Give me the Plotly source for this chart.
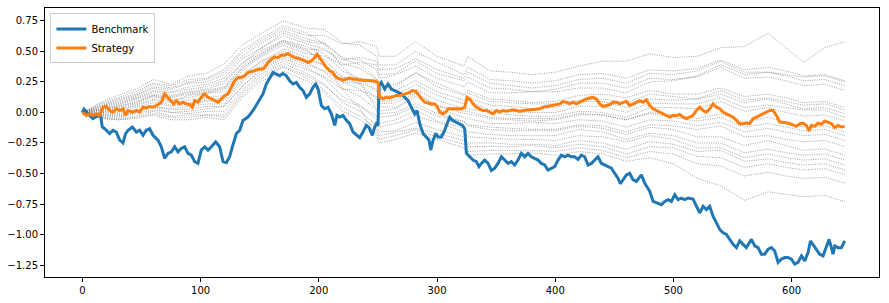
import plotly.graph_objects as go

# ---------------- data ----------------
bench_x = [0, 1.4, 6.2, 9, 13.2, 15.5, 16.9, 18.9, 23.1, 25.9, 28.7, 31.6, 34.4, 36.6, 38.6, 42.3, 45.7, 48.5,
           51.3, 54.1, 56.9, 59.8, 64, 66.8, 69.6, 72.4, 75.3, 78.1, 80.9, 83.7, 86.5, 89.4, 92.2, 95, 97.8,
           100.6, 103.5, 106.3, 109.1, 112.8, 116.1, 119, 121.8, 124.6, 126.9, 130.3, 133.1, 135.9, 140.1,
           144.4, 148.6, 152.8, 155.6, 158.5, 161.3, 164.1, 166.9, 169.7, 172.6, 175.4, 178.2, 181, 183.8,
           186.7, 189.5, 192.3, 195.1, 197.4, 199.4, 202.2, 205, 207.8, 210.6,
           213.5, 215.4, 217.7, 220.5, 223.3, 226.1, 229, 231.8, 234.6, 237.4, 240.2, 242.5, 245.3, 247.3,
           248.7, 250.1, 251, 252.9, 255.8, 258.6, 261.4, 264.2, 267, 269.9, 272.7, 275.5, 278.3, 281.1,
           283.1, 285.4, 288.2, 291, 293.3, 294.7, 296.7, 298.9, 300.9, 303.7, 306.5, 308.5, 310.8, 313,
           315.8, 318.6, 321.5, 323.4, 324.9, 327.7, 330.5, 333.3, 335.5, 337.5, 340.3, 343.2, 346, 348.8,
           351.6, 354.5, 357.3, 360.1, 362.9, 365.7, 368.5, 371.4, 374.2, 377, 379.8, 382.6, 385.5, 388.3,
           391.1, 393.9, 396.7, 399.6, 402.4, 405.2, 408, 410.8, 413.6, 416.5, 419.3, 422.1, 424.9, 427.8,
           430.6, 433.4, 436.2, 439, 441.8, 444.7, 447.5, 450.3, 453.1, 455.1, 457.4,
           460.2, 463, 465.9, 468.7, 472.9, 475.7, 480, 482.8, 485.6, 489.8, 492.6, 495.5, 498.3, 501.1,
           503.9, 506.7, 509.6, 512.4, 516.6, 519.4, 522.2, 525.1, 527.9, 530.7, 533.5, 536.4, 539.2, 542,
           544.8, 547.6, 550.5, 553.3, 556.1, 558.9, 561.7, 566, 568.8, 571.6, 574.4, 577.2, 580.1, 582.9,
           585.7, 588.5, 591.3, 594.2, 597, 599.8, 602.6, 605.4, 608.3, 611.1, 613.9, 615.9, 618.1, 621,
           623.8, 626.6, 629.4, 631.7, 633.6, 635, 636.5, 639.3, 642.1, 644.9]
bench_y = [0, 0.027, -0.024, -0.051, -0.024, -0.032, -0.119, -0.133, -0.173, -0.146, -0.160, -0.227, -0.249,
           -0.173, -0.146, -0.119, -0.160, -0.146, -0.187, -0.146, -0.133, -0.187, -0.227, -0.281, -0.376,
           -0.335, -0.322, -0.281, -0.322, -0.295, -0.281, -0.335, -0.349, -0.403, -0.417, -0.308, -0.281,
           -0.308, -0.281, -0.241, -0.281, -0.403, -0.411, -0.363, -0.281, -0.173, -0.146, -0.065, -0.038,
           0.016, 0.084, 0.152, 0.233, 0.287, 0.327, 0.314, 0.300, 0.319, 0.300, 0.260, 0.233, 0.246, 0.206,
           0.179, 0.124, 0.152, 0.206, 0.233, 0.192, 0.057, 0.030, 0.043, -0.011,
           -0.106, -0.024, -0.038, -0.024, -0.065, -0.092, -0.160, -0.187, -0.206, -0.160, -0.106, -0.124,
           -0.187, -0.119, -0.092, -0.106, 0.219, 0.246, 0.192, 0.233, 0.192, 0.179, 0.165, 0.152, 0.124,
           0.097, 0.043, -0.011, 0.016, -0.092, -0.173, -0.200, -0.227, -0.308, -0.227, -0.173, -0.200,
           -0.200, -0.146, -0.092, -0.038, -0.065, -0.078, -0.092, -0.106, -0.133, -0.335, -0.363, -0.390,
           -0.403, -0.444, -0.417, -0.390, -0.417, -0.476, -0.457, -0.417, -0.363, -0.390, -0.417, -0.403,
           -0.430, -0.390, -0.335, -0.363, -0.335, -0.363, -0.376, -0.390, -0.417, -0.430, -0.471, -0.457,
           -0.444, -0.390, -0.349, -0.363, -0.349, -0.363, -0.363, -0.384, -0.349, -0.363, -0.430, -0.417,
           -0.390, -0.363, -0.417, -0.430, -0.444, -0.457, -0.498, -0.538, -0.584, -0.552,
           -0.511, -0.498, -0.552, -0.565, -0.511, -0.579, -0.647, -0.728, -0.741, -0.755, -0.728, -0.714,
           -0.728, -0.674, -0.714, -0.701, -0.714, -0.701, -0.709, -0.768, -0.823, -0.768, -0.795, -0.768,
           -0.850, -0.904, -0.958, -0.985, -0.998, -1.039, -1.080, -1.107, -1.052, -1.080, -1.107, -1.039,
           -1.093, -1.107, -1.161, -1.161, -1.120, -1.107, -1.134, -1.228, -1.201, -1.188, -1.188, -1.201,
           -1.242, -1.228, -1.174, -1.215, -1.147, -1.052, -1.080, -1.120, -1.161, -1.174, -1.093, -1.039,
           -1.107, -1.161, -1.093, -1.107, -1.107, -1.052]

strat_x = [0, 3.4, 6.2, 9, 11.8, 14.6, 17.5, 20.3, 23.1, 25.9, 28.7, 31.6, 34.4, 36.6, 38.6, 42.8, 45.7, 48.5,
           51.3, 54.1, 56.9, 59.8, 64, 66.8, 69.6, 72.4, 75.3, 77.2, 79.5, 82.3, 85.1, 87.9, 90.8, 93, 95,
           97.8, 100.6, 103.5, 106.3, 109.1, 111.9, 114.7, 117.6, 120.4, 123.2, 126, 128.8, 131.7, 134.5,
           137.3, 140.1, 142.9, 145.8, 148.6, 151.4, 154.2, 157, 159.9, 162.7, 165.5, 168.3, 171.1, 174,
           176.8, 179.6, 182.4, 185.2, 188.1, 190.9, 193.7, 196.5, 198.5, 200.7, 203.6, 206.4, 209.2, 212,
           214.9, 217.7, 220.5, 223.4, 226.2, 229, 231.8, 234.6, 237.4, 240.2, 243.1, 245.9, 248.7, 250.1,
           251.5, 254.3, 257.2, 260, 262.8, 265.6, 268.5, 271.3, 274.1, 276.9, 279.1, 282, 284, 286.8,
           289.6, 292.4, 295.3, 298.1, 300.1, 302.3, 305.1, 307.4, 309.4, 312.2, 315, 317.8, 320.6, 323.5,
           325.4, 327.7, 330.5, 333.3, 336.1, 339, 341.8, 344.6, 347.4, 350.2, 353.1, 355.9, 358.7, 361.5,
           364.3, 367.2, 370, 372.8, 375.6, 378.4, 381.3, 384.1, 386.9, 389.7, 392.5, 395.4, 398.2, 401,
           403.8, 406.6, 409.5, 412.3, 415.1, 417.9, 420.7, 423.6, 426.4, 429.2, 432, 434.8, 437.7, 440.5,
           443.3, 446.1, 448.9, 451.8, 454.6, 457.4,
           460.2, 463, 465.9, 468.7, 471.5, 474.3, 477.1, 480, 482.8, 485.6, 488.4, 491.2, 494.1, 496.9,
           499.7, 502.5, 505.3, 508.2, 511, 513.8, 516.6, 519.4, 522.3, 525.1, 527.9, 530.7, 533.5, 536.4,
           539.2, 542, 544.8, 547.6, 550.5, 553.3, 556.1, 558.9, 561.7, 564.6, 567.4, 570.2, 573, 575.8,
           578.7, 581.5, 584.3, 587.1, 589.9, 592.8, 595.6, 598.4, 601.2, 604, 606.9, 609.7, 612.5, 614.8,
           616.7, 619.6, 622.4, 625.2, 628, 630.8, 633.7, 636.5, 639.3, 642.1, 644.9]
strat_y = [0, -0.024, -0.011, -0.024, -0.011, -0.024, 0.043, 0.049, 0.016, 0.003, 0.030, 0.016, 0.030,
           -0.024, 0.016, 0.003, 0.016, 0.003, 0.043, 0.038, 0.049, 0.043, 0.065, 0.084, 0.152, 0.124, 0.097,
           0.070, 0.097, 0.070, 0.084, 0.070, 0.065, 0.043, 0.097, 0.084, 0.124, 0.152, 0.124, 0.111, 0.097,
           0.084, 0.111, 0.138, 0.152, 0.206, 0.260, 0.287, 0.287, 0.300, 0.327, 0.336, 0.341, 0.354, 0.354,
           0.368, 0.409, 0.436, 0.455, 0.449, 0.471, 0.468, 0.482, 0.463, 0.449, 0.444, 0.436, 0.422, 0.409,
           0.422, 0.449, 0.476, 0.449, 0.409, 0.368, 0.341, 0.327, 0.287,
           0.273, 0.265, 0.273, 0.281, 0.273, 0.273, 0.265, 0.265, 0.260, 0.260, 0.260, 0.252, 0.246,
           0.124, 0.111, 0.124, 0.119, 0.130, 0.138, 0.138, 0.146, 0.157, 0.165, 0.179, 0.173, 0.152, 0.111,
           0.084, 0.076, 0.070, 0.070, 0.049, 0.003, -0.011, 0.003, 0.030, 0.030, 0.030, 0.030, 0.030, 0.043,
           0.124, 0.111, 0.070, 0.043, 0.030, 0.016, 0.016, 0.003, -0.011, 0.016, 0.003, 0.016, 0.011, 0.016,
           0.022, 0.016, 0.008, 0.016, 0.016, 0.022, 0.024, 0.030, 0.030, 0.043, 0.049, 0.049, 0.057, 0.065,
           0.070, 0.089, 0.084, 0.070, 0.084, 0.070, 0.084, 0.097, 0.111, 0.119, 0.124, 0.111, 0.070, 0.049,
           0.057, 0.065, 0.084, 0.084, 0.070, 0.084,
           0.092, 0.057, 0.070, 0.084, 0.097, 0.084, 0.103, 0.057, 0.030, 0.016, 0.003, -0.011, -0.024,
           -0.038, -0.024, -0.024, -0.016, -0.038, -0.051, -0.038, -0.024, 0.016, 0.043, 0.016, 0.003, 0.030,
           0.070, 0.043, 0.030, 0.003, -0.011, -0.024, -0.038, -0.065, -0.092, -0.092, -0.087, -0.092,
           -0.051, -0.038, -0.024, -0.011, 0.003, 0.016, 0.016, -0.024, -0.078, -0.078, -0.084, -0.092,
           -0.106, -0.114, -0.092, -0.087, -0.106, -0.152, -0.106, -0.114, -0.087, -0.097, -0.070, -0.078,
           -0.092, -0.124, -0.106, -0.119, -0.114]

# gray variant curves, sampled at these x positions
variant_x = [0, 15, 30, 45, 60, 75, 90, 105, 120, 135, 150, 170, 190, 205, 220, 235, 249, 251, 265, 282,
             300, 323, 326, 345, 362, 380, 400, 420, 440, 460, 480, 500, 520, 540, 560, 580, 595, 610, 628, 645]
variant_1 = [0, 0.06, 0.11, 0.15, 0.23, 0.20, 0.25, 0.27, 0.33, 0.49, 0.58, 0.69, 0.63, 0.63, 0.56, 0.58, 0.54, 0.46, 0.46, 0.58, 0.46, 0.38, 0.46,
             0.34, 0.33, 0.31, 0.33, 0.38, 0.42, 0.42, 0.48, 0.45, 0.46, 0.53, 0.54, 0.65, 0.53, 0.41, 0.53, 0.58]
variant_2 = [0, 0.08, 0.14, 0.19, 0.27, 0.23, 0.30, 0.32, 0.40, 0.55, 0.64, 0.75, 0.69, 0.68, 0.57, 0.55, 0.46, 0.39, 0.39, 0.50, 0.41, 0.31, 0.37,
             0.27, 0.26, 0.24, 0.26, 0.31, 0.32, 0.28, 0.35, 0.34, 0.36, 0.43, 0.35, 0.37, 0.34, 0.30, 0.31, 0.26]
variant_3 = [0, 0.03, 0.06, 0.11, 0.15, 0.13, 0.16, 0.18, 0.21, 0.38, 0.48, 0.59, 0.52, 0.51, 0.43, 0.45, 0.42, 0.35, 0.36, 0.44, 0.35, 0.28, 0.33,
             0.24, 0.22, 0.20, 0.22, 0.27, 0.28, 0.24, 0.32, 0.31, 0.34, 0.42, 0.33, 0.33, 0.31, 0.29, 0.30, 0.25]
variant_4 = [0, 0.05, 0.09, 0.13, 0.20, 0.17, 0.21, 0.23, 0.28, 0.44, 0.52, 0.65, 0.58, 0.56, 0.45, 0.43, 0.35, 0.28, 0.31, 0.38, 0.28, 0.21, 0.25,
             0.16, 0.16, 0.17, 0.17, 0.20, 0.20, 0.16, 0.25, 0.26, 0.30, 0.39, 0.31, 0.33, 0.30, 0.26, 0.27, 0.22]
variant_5 = [0, 0.02, 0.04, 0.07, 0.13, 0.10, 0.12, 0.16, 0.17, 0.34, 0.45, 0.55, 0.48, 0.46, 0.39, 0.41, 0.39, 0.31, 0.32, 0.42, 0.32, 0.26, 0.29,
             0.20, 0.19, 0.17, 0.19, 0.24, 0.24, 0.20, 0.28, 0.27, 0.29, 0.37, 0.28, 0.29, 0.26, 0.22, 0.23, 0.18]
variant_6 = [0, 0.05, 0.10, 0.14, 0.21, 0.19, 0.24, 0.25, 0.31, 0.46, 0.56, 0.67, 0.60, 0.57, 0.44, 0.39, 0.28, 0.22, 0.23, 0.32, 0.24, 0.15, 0.18,
             0.11, 0.10, 0.08, 0.09, 0.14, 0.15, 0.12, 0.18, 0.15, 0.15, 0.20, 0.13, 0.15, 0.12, 0.08, 0.09, 0.04]
variant_7 = [0, 0.00, 0.03, 0.05, 0.10, 0.06, 0.08, 0.10, 0.12, 0.29, 0.41, 0.50, 0.43, 0.39, 0.29, 0.28, 0.23, 0.19, 0.18, 0.26, 0.17, 0.10, 0.12,
             0.06, 0.05, 0.03, 0.04, 0.09, 0.09, 0.04, 0.11, 0.10, 0.11, 0.18, 0.10, 0.12, 0.09, 0.06, 0.07, 0.02]
variant_8 = [0, 0.04, 0.08, 0.12, 0.18, 0.16, 0.19, 0.21, 0.26, 0.40, 0.52, 0.63, 0.56, 0.52, 0.40, 0.36, 0.27, 0.20, 0.21, 0.33, 0.21, 0.14, 0.16,
             0.09, 0.08, 0.07, 0.07, 0.10, 0.11, 0.08, 0.15, 0.13, 0.11, 0.15, 0.08, 0.11, 0.07, 0.03, 0.04, -0.01]
variant_9 = [0, -0.01, -0.01, 0.02, 0.05, 0.03, 0.05, 0.07, 0.07, 0.25, 0.37, 0.46, 0.39, 0.34, 0.25, 0.24, 0.19, 0.13, 0.14, 0.23, 0.14, 0.07, 0.10,
             0.02, 0.01, 0.00, 0.00, 0.05, 0.05, 0.00, 0.08, 0.07, 0.07, 0.12, 0.04, 0.06, 0.04, 0.02, 0.02, -0.04]
variant_10 = [0, 0.03, 0.07, 0.11, 0.17, 0.14, 0.17, 0.19, 0.24, 0.40, 0.50, 0.59, 0.54, 0.48, 0.34, 0.28, 0.17, 0.09, 0.10, 0.19, 0.10, 0.03, 0.03,
              0.00, -0.02, -0.03, -0.03, 0.01, 0.00, -0.04, 0.04, 0.04, 0.03, 0.09, 0.01, 0.04, 0.00, -0.03, -0.02, -0.07]
variant_11 = [0, 0.02, 0.05, 0.08, 0.14, 0.09, 0.14, 0.16, 0.19, 0.36, 0.46, 0.57, 0.50, 0.43, 0.29, 0.23, 0.11, 0.05, 0.04, 0.15, 0.06, -0.01, -0.01,
              -0.05, -0.06, -0.07, -0.06, -0.02, -0.02, -0.06, 0.00, -0.02, -0.05, -0.01, -0.08, -0.04, -0.08, -0.12, -0.11, -0.16]
variant_12 = [0, -0.02, -0.03, 0.00, 0.04, 0.00, 0.01, 0.03, 0.05, 0.21, 0.33, 0.42, 0.35, 0.29, 0.19, 0.18, 0.13, 0.07, 0.08, 0.16, 0.05, 0.01, 0.01,
              -0.04, -0.05, -0.05, -0.05, -0.01, -0.02, -0.06, -0.01, -0.04, -0.07, -0.04, -0.12, -0.09, -0.12, -0.15, -0.14, -0.19]
variant_13 = [0, 0.01, 0.02, 0.06, 0.11, 0.08, 0.10, 0.12, 0.14, 0.31, 0.41, 0.52, 0.45, 0.38, 0.25, 0.19, 0.07, 0.01, 0.03, 0.13, 0.03, -0.04, -0.05,
              -0.09, -0.09, -0.08, -0.09, -0.06, -0.07, -0.12, -0.06, -0.07, -0.11, -0.08, -0.16, -0.13, -0.16, -0.19, -0.18, -0.23]
variant_14 = [0, 0.07, 0.12, 0.17, 0.24, 0.22, 0.27, 0.28, 0.35, 0.51, 0.60, 0.71, 0.65, 0.56, 0.37, 0.24, 0.03, -0.01, 0.00, 0.07, -0.01, -0.08, -0.10,
              -0.12, -0.13, -0.14, -0.14, -0.10, -0.11, -0.16, -0.10, -0.11, -0.14, -0.11, -0.20, -0.19, -0.22, -0.24, -0.23, -0.28]
variant_15 = [0, 0.00, 0.00, 0.04, 0.08, 0.05, 0.07, 0.09, 0.10, 0.27, 0.39, 0.48, 0.41, 0.33, 0.20, 0.13, 0.02, -0.04, -0.02, 0.05, -0.03, -0.07, -0.11,
              -0.14, -0.15, -0.15, -0.15, -0.11, -0.13, -0.18, -0.12, -0.14, -0.20, -0.20, -0.27, -0.23, -0.27, -0.31, -0.30, -0.35]
variant_16 = [0, -0.04, -0.05, -0.03, 0.01, -0.03, -0.02, -0.02, -0.02, 0.16, 0.29, 0.38, 0.30, 0.22, 0.10, 0.05, -0.03, -0.09, -0.06, 0.02, -0.07, -0.13, -0.16,
              -0.18, -0.19, -0.19, -0.19, -0.14, -0.16, -0.22, -0.17, -0.19, -0.25, -0.25, -0.33, -0.30, -0.33, -0.35, -0.34, -0.39]
variant_17 = [0, -0.02, -0.02, 0.01, 0.05, 0.02, 0.03, 0.05, 0.05, 0.21, 0.35, 0.44, 0.37, 0.28, 0.13, 0.06, -0.06, -0.12, -0.09, -0.03, -0.08, -0.16, -0.20,
              -0.21, -0.22, -0.22, -0.23, -0.19, -0.20, -0.24, -0.19, -0.22, -0.29, -0.29, -0.37, -0.34, -0.37, -0.39, -0.38, -0.43]
variant_18 = [0, -0.03, -0.04, -0.01, 0.02, 0.00, -0.01, 0.01, 0.01, 0.18, 0.31, 0.40, 0.32, 0.23, 0.08, 0.01, -0.11, -0.16, -0.15, -0.08, -0.14, -0.20, -0.25,
              -0.25, -0.26, -0.26, -0.27, -0.23, -0.25, -0.30, -0.24, -0.26, -0.32, -0.31, -0.40, -0.38, -0.41, -0.43, -0.42, -0.47]
variant_19 = [0, -0.04, -0.06, -0.04, -0.01, -0.04, -0.04, -0.02, -0.04, 0.14, 0.27, 0.37, 0.28, 0.18, 0.04, -0.03, -0.14, -0.19, -0.16, -0.13, -0.17, -0.23, -0.28,
              -0.28, -0.28, -0.27, -0.29, -0.26, -0.28, -0.34, -0.28, -0.29, -0.36, -0.37, -0.45, -0.42, -0.45, -0.47, -0.46, -0.51]
variant_20 = [0, -0.05, -0.06, -0.05, -0.02, -0.06, -0.06, -0.04, -0.06, 0.12, 0.25, 0.34, 0.26, 0.16, 0.01, -0.06, -0.17, -0.22, -0.19, -0.14, -0.20, -0.26, -0.32,
              -0.31, -0.31, -0.31, -0.32, -0.29, -0.31, -0.37, -0.32, -0.34, -0.42, -0.44, -0.52, -0.49, -0.52, -0.54, -0.53, -0.58]
variant_21 = [0, 0.02, 0.05, 0.09, 0.14, 0.12, 0.15, 0.17, 0.20, 0.36, 0.47, 0.58, 0.51, 0.40, 0.19, 0.03, -0.20, -0.25, -0.22, -0.17, -0.22, -0.29, -0.35,
              -0.34, -0.34, -0.33, -0.35, -0.32, -0.34, -0.40, -0.37, -0.42, -0.54, -0.60, -0.72, -0.65, -0.67, -0.69, -0.68, -0.73]

variants = [variant_1, variant_2, variant_3, variant_4, variant_5, variant_6, variant_7, variant_8,
            variant_9, variant_10, variant_11, variant_12, variant_13, variant_14, variant_15, variant_16,
            variant_17, variant_18, variant_19, variant_20, variant_21]

y_tick_vals = [0.75, 0.5, 0.25, 0.0, -0.25, -0.5, -0.75, -1.0, -1.25]
y_tick_text = ["0.75", "0.50", "0.25", "0.00", "\u22120.25", "\u22120.50", "\u22120.75", "\u22121.00", "\u22121.25"]
x_tick_vals = [0, 100, 200, 300, 400, 500, 600]

# ---------------- figure ----------------
fig = go.Figure()
for v in variants:
    assert len(v) == len(variant_x), len(v)
    fig.add_trace(go.Scatter(x=variant_x, y=v, mode="lines", showlegend=False, hoverinfo="skip",
                             line=dict(color="rgba(100,100,100,0.75)", width=0.8, dash="1px,1.3px")))

fig.add_trace(go.Scatter(x=bench_x, y=bench_y, mode="lines", name="Benchmark",
                         line=dict(color="#1f77b4", width=3)))
fig.add_trace(go.Scatter(x=strat_x, y=strat_y, mode="lines", name="Strategy",
                         line=dict(color="#ff7f0e", width=3)))

axis_common = dict(showline=True, linecolor="black", linewidth=1, mirror=True, showgrid=False,
                   zeroline=False, ticks="outside", ticklen=4, tickwidth=1, tickcolor="black",
                   tickfont=dict(family="DejaVu Sans", size=10, color="black"))

fig.update_layout(
    width=889, height=303,
    margin=dict(l=45, r=10, t=7, b=24),
    paper_bgcolor="white", plot_bgcolor="white",
    font=dict(family="DejaVu Sans", size=10, color="black"),
    xaxis=dict(range=[-31.6, 673.9], tickvals=x_tick_vals, **axis_common),
    yaxis=dict(range=[-1.3474, 0.8555], tickvals=y_tick_vals, ticktext=y_tick_text, **axis_common),
    legend=dict(x=0.0065, y=0.98, xanchor="left", yanchor="top", bgcolor="rgba(255,255,255,0.8)",
                bordercolor="#cccccc", borderwidth=1, font=dict(family="DejaVu Sans", size=10),
                tracegroupgap=0, itemwidth=30),
)

fig.write_html("out.html")
